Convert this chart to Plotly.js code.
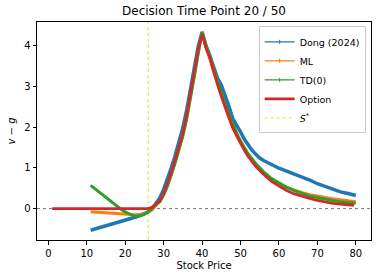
<!DOCTYPE html>
<html><head><meta charset="utf-8">
<script src="https://cdn.plot.ly/plotly-3.0.1.min.js"></script>
<style>html,body{margin:0;padding:0;background:#fff}#c{width:378px;height:278px}</style>
</head><body><div id="c"></div>
<script>
// Dong (2024)
const dongS = [11,14,17,20,23,25,26,27,28,29,30,31,32,33,34,35,36,37,38,39,40,41,42,43,44,45,46,47,48,49,50,51,52,53,54,55,56,57,58,60,62,64,66,68,70,72,74,75,76,78,80];
const dongV = [-0.53,-0.45,-0.37,-0.28,-0.2,-0.13,-0.08,0.0,0.13,0.26,0.47,0.72,1.0,1.3,1.62,1.98,2.42,2.93,3.45,3.98,4.33,4.0,3.75,3.45,3.2,3.03,2.78,2.5,2.2,2.05,1.88,1.7,1.55,1.43,1.33,1.24,1.18,1.13,1.08,0.99,0.92,0.85,0.77,0.7,0.61,0.54,0.47,0.43,0.41,0.37,0.32];
// ML
const mlS = [11,14,17,20,22.6,24,25.6,27,28,29,30,31,32,33,34,35,36,37,38,39,40,41,42,43,44,45,46,47,48,49,50,52,54,56,58,60,62,64,66,68,70,72,74,76,78,80];
const mlV = [-0.08,-0.1,-0.12,-0.14,-0.15,-0.14,-0.11,-0.03,0.08,0.18,0.35,0.58,0.85,1.15,1.47,1.82,2.25,2.75,3.3,3.85,4.3,3.95,3.68,3.35,3.05,2.76,2.5,2.23,1.98,1.78,1.6,1.3,1.07,0.88,0.73,0.61,0.52,0.45,0.39,0.34,0.3,0.27,0.24,0.21,0.19,0.17];
// TD(0)
const tdS = [11,13,15,17,18,19,20,21,22,23,24,25,26,27,28,29,30,31,32,33,34,35,36,37,38,39,40,41,42,43,44,45,46,47,48,49,50,52,54,56,58,60,62,64,66,68,70,72,74,76,78,80];
const tdV = [0.57,0.42,0.28,0.13,0.06,-0.02,-0.08,-0.13,-0.17,-0.19,-0.17,-0.13,-0.08,0.0,0.1,0.17,0.33,0.55,0.82,1.12,1.45,1.78,2.2,2.7,3.25,3.8,4.33,4.0,3.75,3.42,3.12,2.83,2.56,2.3,2.05,1.85,1.66,1.34,1.1,0.9,0.74,0.62,0.52,0.44,0.37,0.31,0.27,0.23,0.2,0.17,0.15,0.13];
// Option
const optS = [1,26,27,28,29,30,31,32,33,34,35,36,37,38,39,40,41,42,43,44,45,46,47,48,49,50,51,52,53,54,56,58,60,62,64,66,68,70,72,74,76,78,79.5];
const optV = [0,0,0.03,0.1,0.19,0.38,0.62,0.9,1.2,1.5,1.85,2.3,2.82,3.35,3.9,4.28,3.95,3.7,3.35,3.05,2.75,2.48,2.2,1.97,1.8,1.6,1.43,1.28,1.15,1.03,0.84,0.67,0.55,0.44,0.36,0.3,0.25,0.2,0.16,0.13,0.11,0.09,0.08];
const sStar = 26;
const xTicks = [0,10,20,30,40,50,60,70,80];
const yTicks = [0,1,2,3,4];

const C = {blue:'#1f77b4', orange:'#ff7f0e', green:'#2ca02c', red:'#d62728', y:'#d8d800'};
const traces = [
  {x:dongS, y:dongV, mode:'lines', line:{color:C.blue, width:3.5}, showlegend:false, hoverinfo:'skip'},
  {x:mlS, y:mlV, mode:'lines', line:{color:C.orange, width:3}, showlegend:false, hoverinfo:'skip'},
  {x:tdS, y:tdV, mode:'lines', line:{color:C.green, width:3}, showlegend:false, hoverinfo:'skip'},
  {x:optS, y:optV, mode:'lines', line:{color:C.red, width:2.7}, showlegend:false, hoverinfo:'skip'},
  // legend entries
  {x:[null], y:[null], mode:'lines+markers', name:'Dong (2024)', line:{color:C.blue, width:1.3}, marker:{symbol:'line-ns', size:3, line:{color:C.blue,width:1}}},
  {x:[null], y:[null], mode:'lines+markers', name:'ML', line:{color:C.orange, width:1.3}, marker:{symbol:'line-ns', size:3, line:{color:C.orange,width:1}}},
  {x:[null], y:[null], mode:'lines+markers', name:'TD(0)', line:{color:C.green, width:1.3}, marker:{symbol:'line-ns', size:3, line:{color:C.green,width:1}}},
  {x:[null], y:[null], mode:'lines', name:'Option', line:{color:C.red, width:2.7}},
  {x:[null], y:[null], mode:'lines', name:'<i>S</i><sup>*</sup>', line:{color:C.y, width:0.8, dash:'dot'}}
];

const layout = {
  width:378, height:278,
  margin:{l:37, r:7, t:22, b:38},
  paper_bgcolor:'#fff', plot_bgcolor:'#fff',
  font:{family:'DejaVu Sans', size:10, color:'#000'},
  title:{text:'Decision Time Point 20 / 50', x:0.5, xref:'paper', xanchor:'center', y:0.975, yanchor:'top', font:{size:12, color:'#000'}},
  xaxis:{range:[-2.95,83.95], tickvals:xTicks, ticktext:xTicks.map(String), showgrid:false, zeroline:false,
    showline:true, mirror:true, linecolor:'#000', linewidth:1, ticks:'outside', ticklen:3.5, tickcolor:'#000',
    title:{text:'Stock Price', font:{size:10}, standoff:4}},
  yaxis:{range:[-0.77,4.575], tickvals:yTicks, ticktext:yTicks.map(String), showgrid:false, zeroline:false,
    showline:true, mirror:true, linecolor:'#000', linewidth:1, ticks:'outside', ticklen:3.5, tickcolor:'#000',
    title:{text:'<i>v</i> − <i>g</i>', font:{size:10}, standoff:6}},
  shapes:[
    {type:'line', xref:'paper', x0:0, x1:1, yref:'y', y0:0, y1:0, line:{color:'#555', width:0.8, dash:'dot'}, layer:'below'},
    {type:'line', xref:'x', x0:sStar, x1:sStar, yref:'paper', y0:0, y1:1, line:{color:C.y, width:0.8, dash:'dot'}, layer:'below'}
  ],
  legend:{x:0.984, xanchor:'right', y:0.98, yanchor:'top', bgcolor:'rgba(255,255,255,0.8)', bordercolor:'#ccc', borderwidth:1,
    font:{size:9.5}, itemwidth:30, tracegroupgap:0}
};
Plotly.newPlot('c', traces, layout, {staticPlot:true, displayModeBar:false});
</script></body></html>
